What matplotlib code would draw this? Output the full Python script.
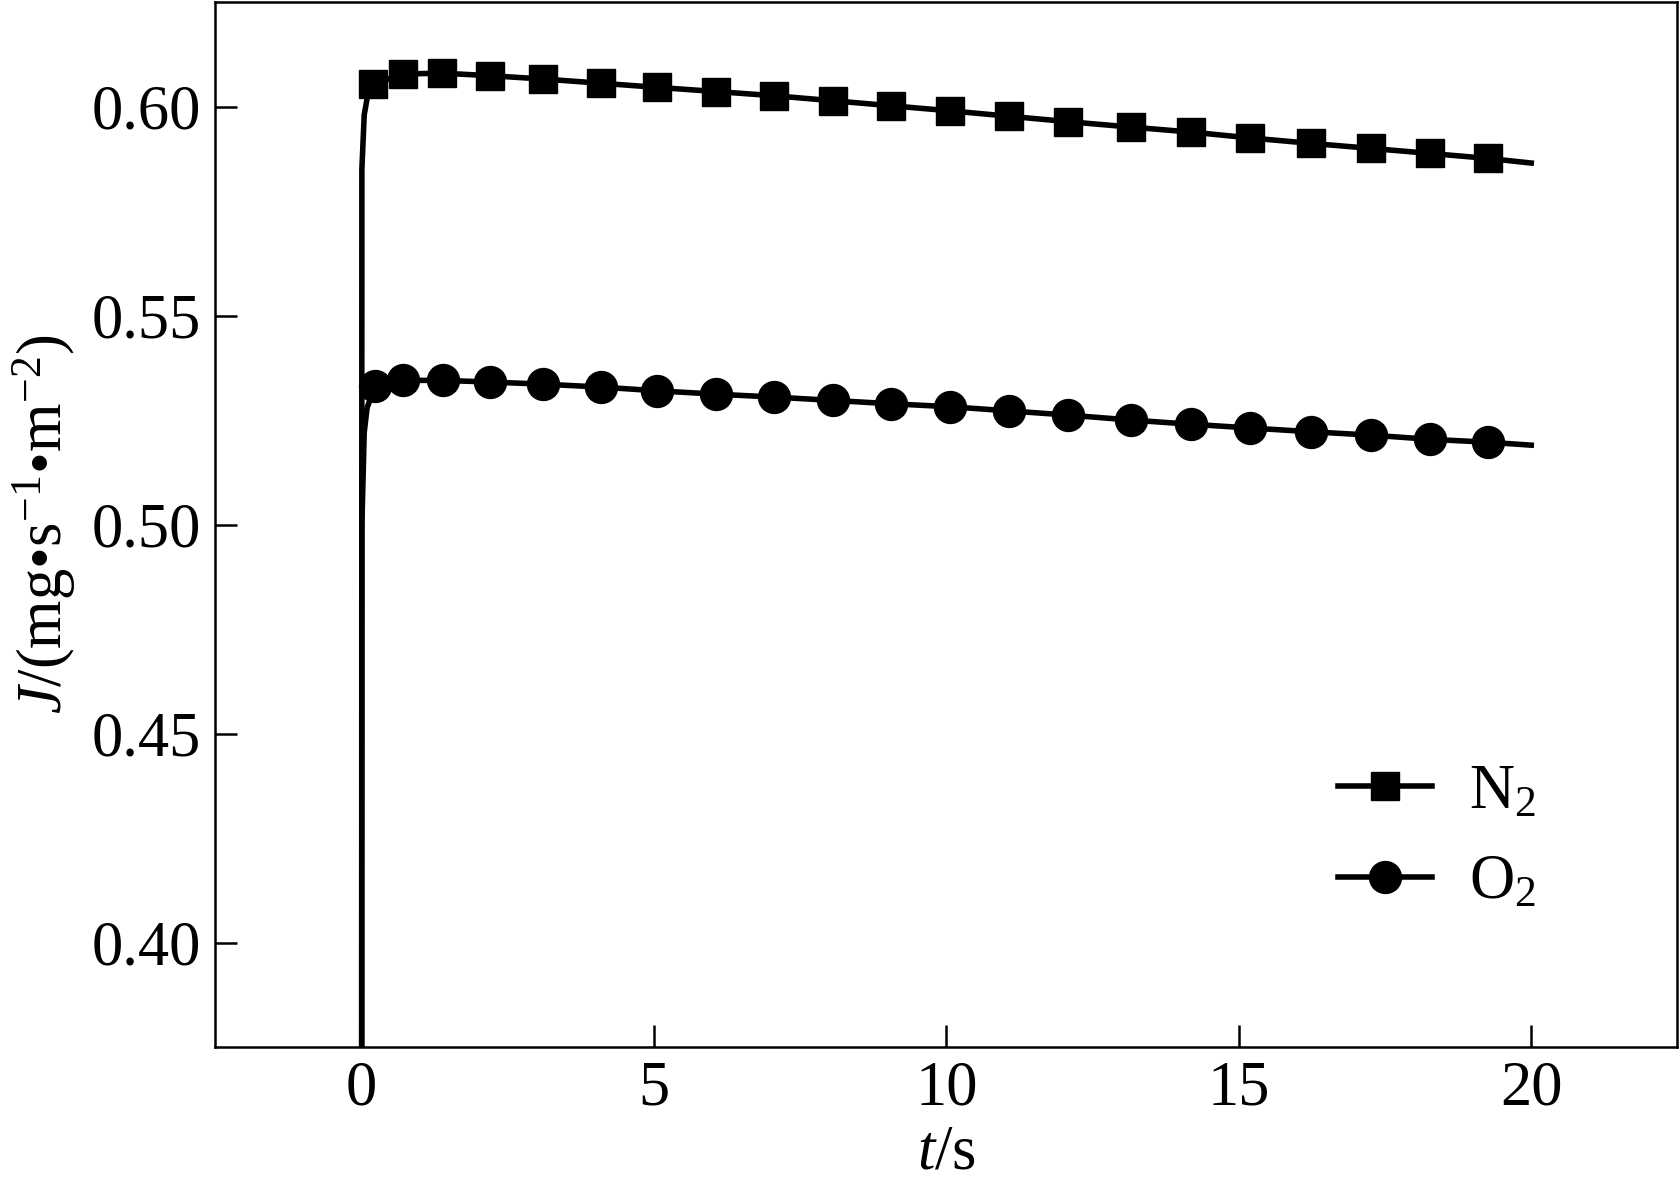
import numpy as np
import matplotlib.pyplot as plt

# ---- data ----
t_n2 = [0.0, 0.01, 0.05, 0.1, 0.2, 0.72, 1.38, 2.2, 3.11, 4.09, 5.06, 6.07, 7.06, 8.07,
        9.06, 10.06, 11.07, 12.08, 13.16, 14.19, 15.2, 16.24, 17.26, 18.27, 19.26, 20.0]
j_n2 = [0.0, 0.585, 0.598, 0.602, 0.6054, 0.6078, 0.6080, 0.6074, 0.6066, 0.6056, 0.6046,
        0.6036, 0.6026, 0.6014, 0.6002, 0.5990, 0.5977, 0.5964, 0.5951, 0.5939, 0.5925,
        0.5912, 0.5900, 0.5888, 0.5876, 0.5865]

t_o2 = [0.0, 0.01, 0.05, 0.1, 0.24, 0.72, 1.4, 2.2, 3.11, 4.09, 5.06, 6.07, 7.06, 8.07,
        9.06, 10.06, 11.07, 12.08, 13.16, 14.19, 15.2, 16.24, 17.26, 18.27, 19.26, 20.0]
j_o2 = [0.0, 0.500, 0.522, 0.528, 0.5331, 0.5345, 0.5345, 0.5341, 0.5336, 0.5329, 0.5320,
        0.5312, 0.5305, 0.5297, 0.5289, 0.5282, 0.5272, 0.5262, 0.5250, 0.5240, 0.5231,
        0.5222, 0.5214, 0.5204, 0.5197, 0.5190]

# marker indices (skip the start-up points and the end point)
mark_idx = list(range(4, len(t_n2) - 1))

plt.rcParams['font.family'] = ['Liberation Serif', 'DejaVu Serif']
plt.rcParams['mathtext.fontset'] = 'custom'
plt.rcParams['mathtext.rm'] = 'Liberation Serif'
plt.rcParams['mathtext.it'] = 'Liberation Serif:italic'
plt.rcParams['mathtext.bf'] = 'Liberation Serif:bold'

fig = plt.figure(figsize=(16.8, 11.8), dpi=100)
ax = fig.add_axes([0.128, 0.1127, 0.8705, 0.8855])

ax.plot(t_n2, j_n2, color='black', lw=4, marker='s', markersize=20,
        markevery=mark_idx, label=r'N$_2$', solid_joinstyle='round')
ax.plot(t_o2, j_o2, color='black', lw=4, marker='o', markersize=23,
        markevery=mark_idx, label=r'O$_2$', solid_joinstyle='round')

ax.set_xlim(-2.5, 22.5)
ax.set_ylim(0.375, 0.625)
ax.set_xticks([0, 5, 10, 15, 20])
ax.set_yticks([0.40, 0.45, 0.50, 0.55, 0.60])
ax.set_yticklabels(['0.40', '0.45', '0.50', '0.55', '0.60'])

ax.tick_params(direction='in', length=16, width=1.8, labelsize=45, pad=10,
               top=False, right=False)
for s in ax.spines.values():
    s.set_linewidth(1.8)

ax.set_xlabel(r'$t$/s', fontsize=45, labelpad=4)
ax.set_ylabel(r'$J$/(mg•s$^{-1}$•m$^{-2}$)', fontsize=45, labelpad=10)

ax.legend(loc='lower right', bbox_to_anchor=(0.942, 0.075), frameon=False, fontsize=45,
          handlelength=1.5, handletextpad=0.6, labelspacing=0.52)

fig.savefig('out.png', dpi=100)
